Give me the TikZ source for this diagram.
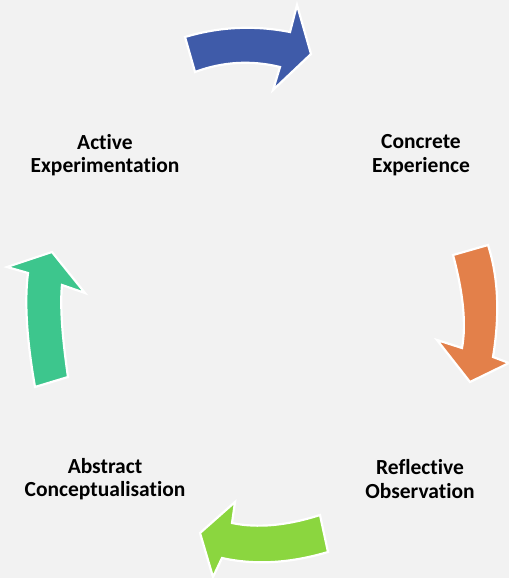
\documentclass[tikz,border=0pt]{standalone}
\usepackage{fontspec}
\setmainfont{Carlito}[Ligatures={NoCommon,NoContextual}]
\definecolor{bg}{HTML}{F2F2F2}
\definecolor{cblue}{HTML}{3F5BA9}
\definecolor{corange}{HTML}{E3804A}
\definecolor{cgreen}{HTML}{8BD63F}
\definecolor{cteal}{HTML}{3DC68D}
\begin{document}
\begin{tikzpicture}[x=1pt,y=-1pt,
  blockarrow/.style={draw=white,line width=2.2pt,line join=miter},
  lbl/.style={align=center,font=\fontsize{21.5}{23.5}\selectfont\bfseries,text=black,inner sep=0pt}]
\fill[bg] (0,0) rectangle (509,578);
\useasboundingbox (0,0) rectangle (509,578);
% blue (top)
\filldraw[blockarrow,fill=cblue] (185,37) .. controls (219.3,26.7) and (254.3,25) .. (290,32)
  -- (297,5) -- (311,54) -- (273,90) -- (280,67)
  .. controls (251,60) and (222.7,61.7) .. (195,72) -- cycle;
% orange (right)
\filldraw[blockarrow,fill=corange] (488,245) .. controls (498.3,277) and (500,314.3) .. (493,357)
  -- (509,363) -- (470,382) -- (437,340) -- (462,348)
  .. controls (466.3,324.3) and (463.3,293.3) .. (453,255) -- cycle;
% green (bottom)
\filldraw[blockarrow,fill=cgreen] (328,552) .. controls (290,563.3) and (254.7,565.3) .. (222,558)
  -- (213,577) -- (200,533) -- (235,502) -- (232,523)
  .. controls (257.3,528.3) and (286.7,525.7) .. (320,515) -- cycle;
% teal (left)
\filldraw[blockarrow,fill=cteal] (68,377) .. controls (62,335.7) and (60,305) .. (62,285)
  -- (85,293) -- (52,252) -- (7,267) -- (28,273)
  .. controls (24.3,301.7) and (26.7,339.7) .. (35,387) -- cycle;
\node[lbl] (ce) at (421,155) {Concrete\\Experience};
\node[lbl] (ro) at (420,479) {Reflective\\Observation};
\node[lbl] (ac) at (105,479) {Abstract\\Conceptualisation};
\node[lbl] (ae) at (105,155) {Active\\Experimentation};
\end{tikzpicture}
\end{document}
